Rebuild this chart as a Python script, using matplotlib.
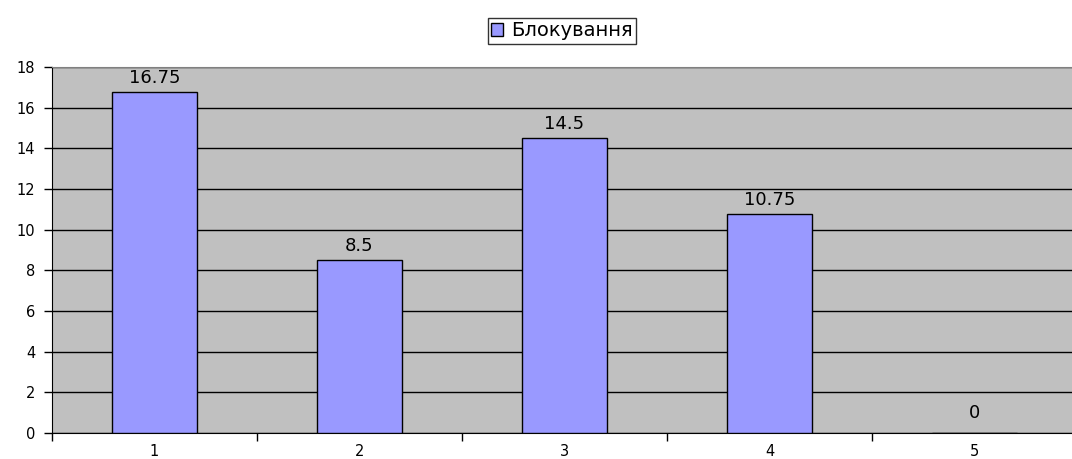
import matplotlib.pyplot as plt
from matplotlib.patches import Patch

# дані
categories = [1, 2, 3, 4, 5]
values = [16.75, 8.5, 14.5, 10.75, 0]
labels = ['16.75', '8.5', '14.5', '10.75', '0']
series_name = 'Блокування'

plt.rcParams['font.family'] = ['DejaVu Sans']

fig = plt.figure(figsize=(10.72, 4.59), dpi=100)
ax = fig.add_axes([52 / 1072, 26 / 459, 1025 / 1072, 366 / 459])
ax.set_facecolor('#C0C0C0')

bars = ax.bar(categories, values, width=0.41, color='#9999FF',
              edgecolor='black', linewidth=1, zorder=3)
for b, lab in zip(bars, labels):
    dy = 8 if b.get_height() == 0 else 4
    ax.annotate(lab, (b.get_x() + b.get_width() / 2, b.get_height()),
                xytext=(0, dy), textcoords='offset points',
                ha='center', va='bottom', fontsize=13, zorder=4)

ax.set_xlim(0.5, 5.5)
ax.set_ylim(0, 18)
ax.set_yticks(range(0, 19, 2))
ax.yaxis.grid(True, color='black', linewidth=1, zorder=1)
ax.set_axisbelow(True)

# мітки категорій між стовпцями
ax.set_xticks([c + 0.5 for c in [0] + categories], minor=False)
ax.set_xticklabels([])
ax.set_xticks(categories, minor=True)
ax.set_xticklabels([str(c) for c in categories], minor=True)
ax.tick_params(axis='x', which='major', length=6, width=1, direction='out')
ax.tick_params(axis='x', which='minor', length=0, pad=8, labelsize=10.5)
ax.tick_params(axis='y', length=6, width=1, labelsize=10.5, pad=6)

ax.spines['top'].set_color('#808080')
ax.spines['right'].set_visible(False)
ax.spines['left'].set_color('black')
ax.spines['bottom'].set_color('black')

fig.legend(handles=[Patch(facecolor='#9999FF', edgecolor='black', label=series_name)],
           loc='center', bbox_to_anchor=(562 / 1072, 1 - 31 / 459),
           fontsize=14, frameon=True, fancybox=False, edgecolor='black',
           handlelength=0.6, handleheight=0.6, handletextpad=0.4,
           borderpad=0.2, borderaxespad=0)

fig.savefig('out.png', dpi=100)
